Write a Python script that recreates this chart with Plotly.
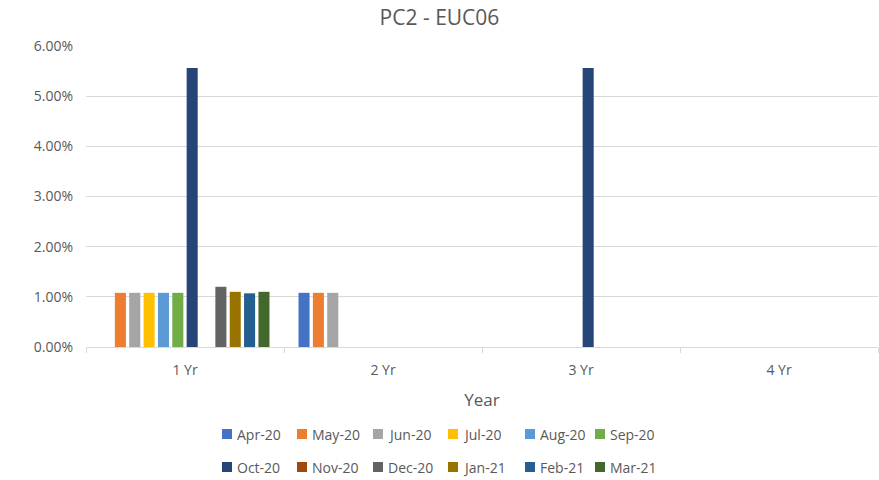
import plotly.graph_objects as go

categories = ["1 Yr", "2 Yr", "3 Yr", "4 Yr"]
series_names = ["Apr-20", "May-20", "Jun-20", "Jul-20", "Aug-20", "Sep-20",
                "Oct-20", "Nov-20", "Dec-20", "Jan-21", "Feb-21", "Mar-21"]
colors = ["#4472C4", "#ED7D31", "#A5A5A5", "#FFC000", "#5B9BD5", "#70AD47",
          "#264478", "#9E480E", "#636363", "#997300", "#255E91", "#43682B"]

# values per category, in series order (None = no bar)
yr1 = [None, 0.0108, 0.0108, 0.0108, 0.0108, 0.0108, 0.0556, None, 0.0120, 0.0110, 0.0107, 0.0110]
yr2 = [0.0108, 0.0108, 0.0108, None, None, None, None, None, None, None, None, None]
yr3 = [None, None, None, None, None, None, 0.0556, None, None, None, None, None]
yr4 = [None] * 12

font_family = "Open Sans, Liberation Sans, sans-serif"
W, H = 879, 480
L, R, T, B = 86, 1, 46, 133

fig = go.Figure()
for i, name in enumerate(series_names):
    fig.add_trace(go.Bar(
        x=categories,
        y=[yr1[i], yr2[i], yr3[i], yr4[i]],
        name=name,
        marker=dict(color=colors[i], line=dict(width=0)),
        showlegend=False,
    ))

# Excel-style legend: 2 rows x 6 columns (layout pixel positions)
legend_cols_px = [222, 297, 373, 448, 525, 595]
legend_rows_px = [434, 467]
pw = W - L - R
ph = H - T - B


def px_to_paper_x(px):
    return (px - L) / pw


def px_to_paper_y(py):
    return (H - B - py) / ph


shapes = []
annotations = []
for i, name in enumerate(series_names):
    cx = legend_cols_px[i % 6]
    cy = legend_rows_px[i // 6]
    shapes.append(dict(
        type="rect", xref="paper", yref="paper",
        x0=px_to_paper_x(cx), x1=px_to_paper_x(cx + 10),
        y0=px_to_paper_y(cy + 5), y1=px_to_paper_y(cy - 5),
        fillcolor=colors[i], line=dict(width=0),
    ))
    annotations.append(dict(
        text=name, xref="paper", yref="paper",
        x=px_to_paper_x(cx + 13), y=px_to_paper_y(cy),
        xanchor="left", yanchor="middle", showarrow=False,
        font=dict(size=14, color="#595959", family=font_family),
    ))

fig.update_layout(
    width=W, height=H,
    margin=dict(l=L, r=R, t=T, b=B, autoexpand=False),
    paper_bgcolor="white", plot_bgcolor="white",
    title=dict(text="PC2 - EUC06", x=0.5, xanchor="center",
               yref="container", y=1 - 18 / 480, yanchor="middle",
               font=dict(size=21, color="#595959", family=font_family)),
    barmode="group", bargap=0.13, bargroupgap=0.23,
    showlegend=False,
    shapes=shapes,
    annotations=annotations,
    font=dict(family=font_family, color="#595959"),
)

fig.update_yaxes(
    range=[0, 0.06], dtick=0.01, tickformat=".2%",
    showgrid=True, gridcolor="#D9D9D9", gridwidth=1,
    zeroline=False, showline=False, automargin=False,
    tickfont=dict(size=14, color="#595959"), ticklabelstandoff=12,
)
fig.update_xaxes(
    showline=True, linecolor="#D9D9D9", linewidth=1, automargin=False,
    ticks="outside", tickson="boundaries", ticklen=5, tickcolor="#D9D9D9",
    tickfont=dict(size=14, color="#595959"), ticklabelstandoff=10,
    title=dict(text="Year", font=dict(size=17, color="#595959"), standoff=16),
)

fig.write_html("out.html", config={"displayModeBar": False},
               post_script="document.body.style.margin='0';")
